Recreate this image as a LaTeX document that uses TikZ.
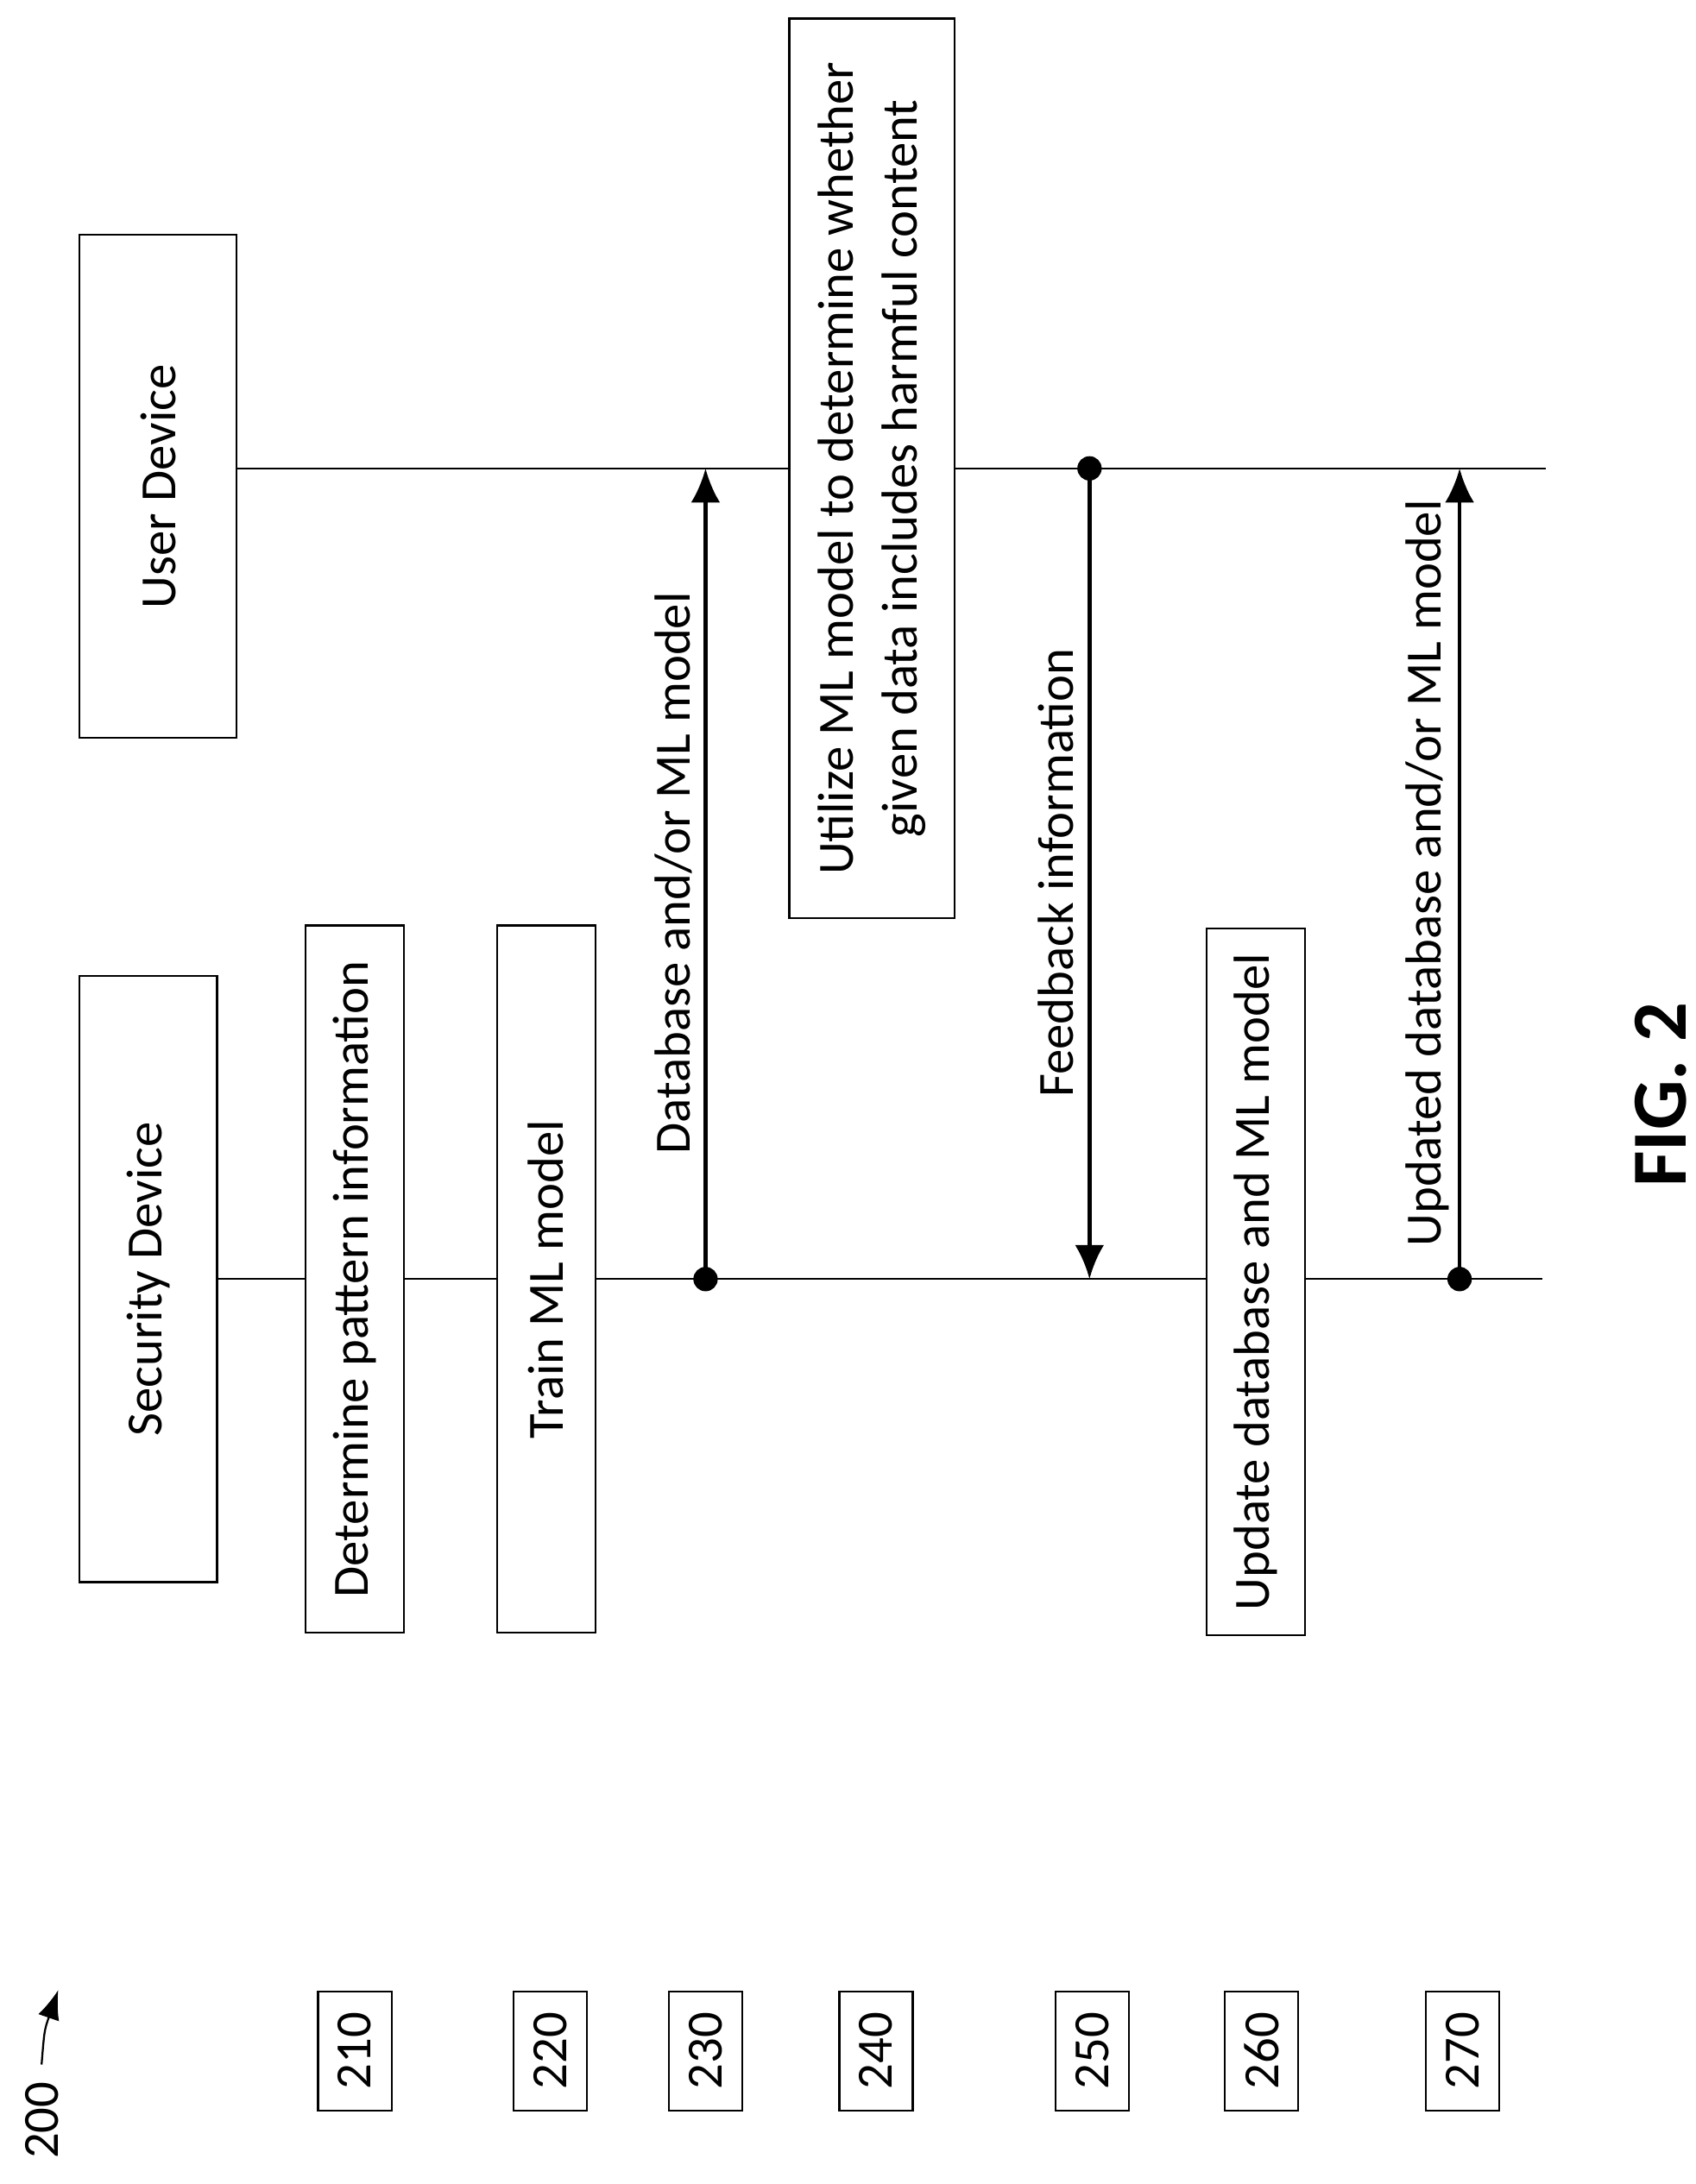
\documentclass[tikz,border=0pt]{standalone}
\usepackage{fontspec}
\setmainfont{Carlito}
\usetikzlibrary{positioning,arrows.meta}

\begin{document}
\begin{tikzpicture}[x=0.01cm,y=-0.01cm,
  box/.style={draw, rotate=90, inner sep=2pt, align=center, font=\fontsize{10.4pt}{13pt}\selectfont},
  stepno/.style={draw, rotate=90, minimum width=0.86cm, minimum height=0.53cm, inner sep=1pt, font=\fontsize{10.4pt}{13pt}\selectfont},
  lbl/.style={rotate=90, font=\fontsize{10.4pt}{13pt}\selectfont},
  msg/.style={-{Latex[length=7pt,width=6pt]}, thick},
  dot/.style={circle, fill, inner sep=0pt, minimum size=5pt}]
  \useasboundingbox (0,0) rectangle (1223,1576);

  % Devices
  \node[box, minimum width=4.37cm, minimum height=0.99cm] (sec) at (107,923) {Security Device};
  \node[box, minimum width=3.63cm, minimum height=1.13cm] (usr) at (114,351) {User Device};

  % Lifelines
  \coordinate (secend) at (1113,923);
  \coordinate (usrend) at (1115,338);
  \draw (157,923) -- (secend);
  \draw (171,338) -- (usrend);

  % Steps
  \node[box, minimum width=5.10cm, minimum height=0.71cm, fill=white] (pat) at (256,923) {Determine pattern information};
  \node[box, minimum width=5.10cm, minimum height=0.71cm, fill=white] (train) at (394,923) {Train ML model};
  \node[box, minimum width=6.49cm, minimum height=1.19cm, fill=white] (util) at (629,338) {Utilize ML model to determine whether\\given data includes harmful content};
  \node[box, minimum width=5.10cm, minimum height=0.71cm, fill=white] (upd) at (906,925) {Update database and ML model};

  % Messages
  \coordinate (a1) at (509,923);
  \coordinate (a2) at (509,338);
  \coordinate (b1) at (786,338);
  \coordinate (b2) at (786,923);
  \coordinate (c1) at (1053,923);
  \coordinate (c2) at (1053,338);
  \node[dot] at (a1) {};
  \node[dot] at (b1) {};
  \node[dot] at (c1) {};
  \draw[msg] (a1) -- (a2);
  \draw[msg] (b1) -- (b2);
  \draw[msg] (c1) -- (c2);
  \node[lbl] (la) at (486,630) {Database and/or ML model};
  \node[lbl] (lb) at (762,630) {Feedback information};
  \node[lbl] (lc) at (1030,630) {Updated database and/or ML model};

  % Step numbers
  \foreach \n/\x in {210/256,220/397,230/509,240/632,250/788,260/910,270/1055}
    \node[stepno] (s\n) at (\x,1480) {\n};

  \node[lbl] (fig) at (30,1530) {200};
  \draw[-{Latex[length=6pt]}] (fig.east) .. controls (32,1465) .. (42,1436);

  \node[lbl, font=\fontsize{16pt}{19pt}\selectfont\bfseries] (fig2) at (1198,790) {FIG. 2};
\end{tikzpicture}
\end{document}
